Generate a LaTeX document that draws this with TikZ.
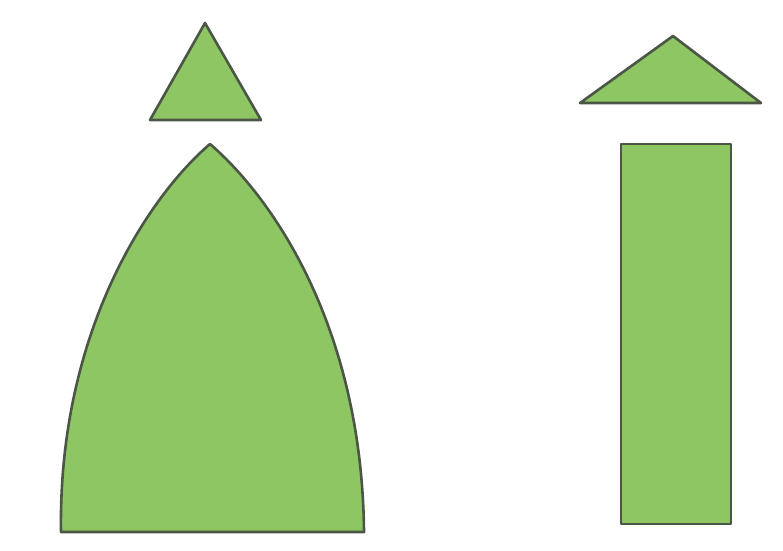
\documentclass[tikz,border=0pt]{standalone}
\begin{document}
\begin{tikzpicture}[x=1pt,y=-1pt,
  shape fill/.style={fill=leafgreen, draw=edgegray, line width=2.6pt, line join=round}]
\definecolor{leafgreen}{HTML}{8DC663}
\definecolor{edgegray}{HTML}{4B5646}
\useasboundingbox (0,0) rectangle (783,550);
% small triangle (left)
\draw[shape fill] (205,23) -- (261,120) -- (150,120) -- cycle;
% gothic arch
\draw[shape fill] (61,532) .. controls (58,330) and (150,195) .. (210,144)
  .. controls (275,200) and (362,330) .. (364,532) -- cycle;
% flat triangle (right)
\draw[shape fill] (673,36) -- (761,103) -- (580,103) -- cycle;
% rectangle
\draw[shape fill] (621,144) rectangle (731,524);
\end{tikzpicture}
\end{document}
